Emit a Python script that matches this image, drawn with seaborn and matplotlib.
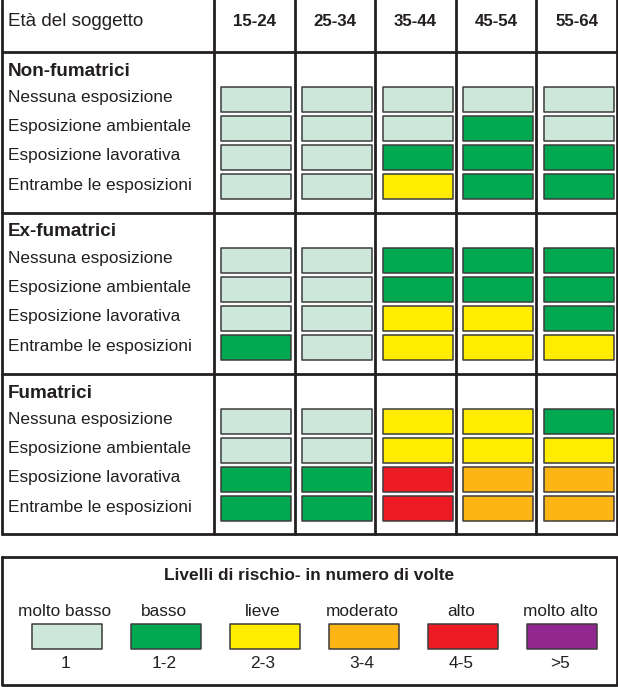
import numpy as np
import pandas as pd
import matplotlib
matplotlib.use("Agg")
import matplotlib.pyplot as plt
from matplotlib.path import Path
import seaborn as sns

sns.set_theme(style="white")
plt.rcParams["font.family"] = ["Liberation Sans", "DejaVu Sans"]

# ===================
# Data
# ===================
ages = ["15-24", "25-34", "35-44", "45-54", "55-64"]
groups = ["Non-fumatrici", "Ex-fumatrici", "Fumatrici"]
exposures = ["Nessuna esposizione", "Esposizione ambientale",
             "Esposizione lavorativa", "Entrambe le esposizioni"]

# risk level index per exposure row (0 = molto basso ... 5 = molto alto)
non_fumatrici = [[0, 0, 0, 0, 0],
                 [0, 0, 0, 1, 0],
                 [0, 0, 1, 1, 1],
                 [0, 0, 2, 1, 1]]
ex_fumatrici = [[0, 0, 1, 1, 1],
                [0, 0, 1, 1, 1],
                [0, 0, 2, 2, 1],
                [1, 0, 2, 2, 2]]
fumatrici = [[0, 0, 2, 2, 1],
             [0, 0, 2, 2, 2],
             [1, 1, 4, 3, 3],
             [1, 1, 4, 3, 3]]

level_names = ["molto basso", "basso", "lieve", "moderato", "alto", "molto alto"]
level_ranges = ["1", "1-2", "2-3", "3-4", "4-5", ">5"]
level_colors = ["#cde8da", "#00a94f", "#ffed00", "#fdb515", "#ed1c24", "#92278f"]

# ===================
# Layout (pixel coordinates of the figure)
# ===================
W, H = 618, 687
col_edges = np.linspace(214, 617, len(ages) + 1)
col_centers = (col_edges[:-1] + col_edges[1:]) / 2 + 2
sec_tops = [52, 213, 374]
table_bottom = 534
row_offset, row_pitch = 47, 29.2

leg_top, leg_bottom = 557, 685
leg_centers = 67 + 99 * np.arange(len(level_names))
LINE = "#231f20"

# long-form table of cells
rows = []
for g, (grp, levels) in enumerate(zip(groups, [non_fumatrici, ex_fumatrici, fumatrici])):
    for r, expo in enumerate(exposures):
        for c, age in enumerate(ages):
            rows.append({"gruppo": grp, "esposizione": expo, "eta": age,
                         "livello": level_names[levels[r][c]],
                         "x": col_centers[c],
                         "y": sec_tops[g] + row_offset + row_pitch * r})
cells = pd.DataFrame(rows)

legend_df = pd.DataFrame({"livello": level_names,
                          "x": leg_centers,
                          "y": [636] * len(level_names)})

# rectangular marker, 70 x 25 px
cell_w, cell_h = 70, 25
rect = Path([(-cell_w / 2, -cell_h / 2), (cell_w / 2, -cell_h / 2),
             (cell_w / 2, cell_h / 2), (-cell_w / 2, cell_h / 2),
             (-cell_w / 2, -cell_h / 2)],
            [Path.MOVETO, Path.LINETO, Path.LINETO, Path.LINETO, Path.CLOSEPOLY])
marker_size = (cell_w * 72 / 100) ** 2

fig = plt.figure(figsize=(W / 100, H / 100), dpi=100)
ax = fig.add_axes([0, 0, 1, 1])

sns.scatterplot(data=cells, x="x", y="y", hue="livello", hue_order=level_names,
                palette=level_colors, marker=rect, s=marker_size,
                edgecolor="#3c3c3c", linewidth=1.1, legend=False, ax=ax, zorder=3)
sns.scatterplot(data=legend_df, x="x", y="y", hue="livello", hue_order=level_names,
                palette=level_colors, marker=rect, s=marker_size,
                edgecolor="#3c3c3c", linewidth=1.1, legend=False, ax=ax, zorder=3)

ax.set_xlim(0, W)
ax.set_ylim(H, 0)
ax.axis("off")

# ===================
# Table grid
# ===================
lw = 2.0
ax.plot([2, 2], [0, table_bottom], color=LINE, lw=lw)
ax.plot([617, 617], [0, table_bottom], color=LINE, lw=lw)
for x in col_edges[:-1]:
    ax.plot([x, x], [0, table_bottom], color=LINE, lw=lw)
for y in sec_tops + [table_bottom]:
    ax.plot([2, 617], [y, y], color=LINE, lw=lw)

# header
ax.text(8, 22, "Età del soggetto", fontsize=13.6, va="center", ha="left", color="#231f20")
for c, age in enumerate(ages):
    ax.text(col_centers[c] - 2, 22, age, fontsize=12.2, fontweight="bold",
            va="center", ha="center", color="#231f20")

# row labels
for g, grp in enumerate(groups):
    ax.text(8, sec_tops[g] + 19, grp, fontsize=13.6, fontweight="bold",
            va="center", ha="left", color="#231f20")
    for r, expo in enumerate(exposures):
        ax.text(8, sec_tops[g] + row_offset + row_pitch * r - 1.5, expo,
                fontsize=12.4, va="center", ha="left", color="#231f20")

# ===================
# Legend box
# ===================
ax.plot([2, 617, 617, 2, 2], [leg_top, leg_top, leg_bottom, leg_bottom, leg_top],
        color=LINE, lw=lw)
ax.text(309, 576, "Livelli di rischio- in numero di volte", fontsize=12.4,
        fontweight="bold", va="center", ha="center", color="#231f20")
for i, (name, rng) in enumerate(zip(level_names, level_ranges)):
    ax.text(leg_centers[i] - 2, 611, name, fontsize=12.4, va="center",
            ha="center", color="#231f20")
    ax.text(leg_centers[i] - 2, 664, rng, fontsize=12.4, va="center",
            ha="center", color="#231f20")

fig.savefig("out.png", dpi=100)
